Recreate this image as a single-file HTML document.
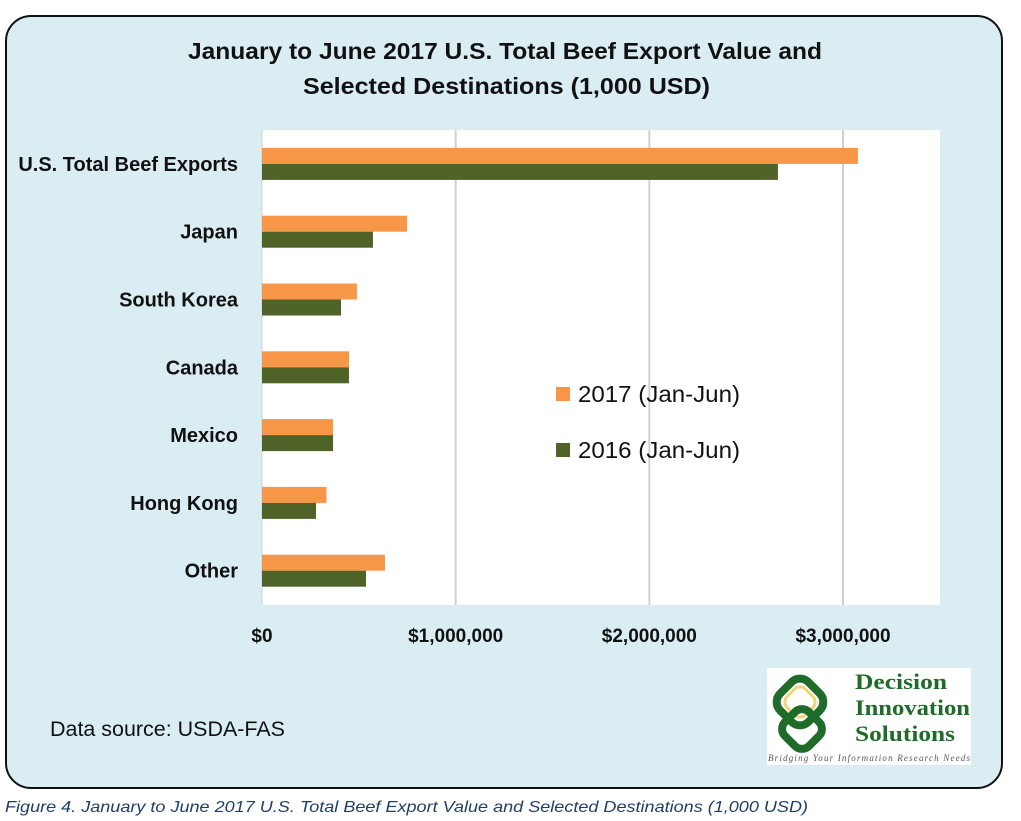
<!DOCTYPE html>
<html><head><meta charset="utf-8"><style>
body{margin:0;width:1021px;height:821px;background:#fff;position:relative;font-family:"Liberation Sans",sans-serif;overflow:hidden}
#panel{position:absolute;left:5px;top:15px;width:998px;height:774px;border:2px solid #111;border-radius:26px;background:#daedf3;box-sizing:border-box}
</style></head><body>
<div id="panel"></div>
<svg width="1021" height="821" style="position:absolute;left:0;top:0">
<text x="188" y="59" font-size="23" font-weight="bold" fill="#111" textLength="634" lengthAdjust="spacingAndGlyphs">January to June 2017 U.S. Total Beef Export Value and</text>
<text x="303" y="94" font-size="23" font-weight="bold" fill="#111" textLength="407" lengthAdjust="spacingAndGlyphs">Selected Destinations  (1,000 USD)</text>
<rect x="262" y="130" width="678" height="475" fill="#fff"/>
<g id="grid"></g><g id="bars"></g><g id="labels"></g>
<rect x="556" y="387" width="14" height="14" fill="#f79646"/>
<text x="578" y="402" font-size="23" fill="#111" textLength="162" lengthAdjust="spacingAndGlyphs">2017 (Jan-Jun)</text>
<rect x="556" y="443" width="14" height="14" fill="#4f6228"/>
<text x="578" y="458" font-size="23" fill="#111" textLength="162" lengthAdjust="spacingAndGlyphs">2016 (Jan-Jun)</text>
<text x="50" y="736" font-size="21" fill="#111" textLength="235" lengthAdjust="spacingAndGlyphs">Data source: USDA-FAS</text>
<g>
<rect x="767" y="668" width="204" height="97" fill="#fff"/>
<g fill="none" stroke-width="8">
<rect x="780" y="682" width="40" height="40" rx="12" stroke="#1f6b2a" transform="rotate(45 800 702)"/>
<rect x="787" y="689" width="26" height="26" rx="8" stroke="#f2d27a" stroke-width="3" transform="rotate(45 800 702)"/>
<rect x="785" y="712" width="34" height="34" rx="10" stroke="#1f6b2a" transform="rotate(45 802 729)"/>
</g>
<text x="855" y="689" font-family="Liberation Serif" font-weight="bold" font-size="22" fill="#1f6b2a" textLength="92" lengthAdjust="spacingAndGlyphs">Decision</text>
<text x="855" y="715" font-family="Liberation Serif" font-weight="bold" font-size="22" fill="#1f6b2a" textLength="115" lengthAdjust="spacingAndGlyphs">Innovation</text>
<text x="855" y="741" font-family="Liberation Serif" font-weight="bold" font-size="22" fill="#1f6b2a" textLength="100" lengthAdjust="spacingAndGlyphs">Solutions</text>
<text x="768" y="761" font-family="Liberation Serif" font-style="italic" font-size="9" fill="#555" textLength="202">Bridging Your Information Research Needs</text>
</g>
<text x="5" y="812" font-size="16" font-style="italic" fill="#1f3f66" textLength="803" lengthAdjust="spacingAndGlyphs">Figure 4. January to June 2017 U.S. Total Beef Export Value and Selected Destinations (1,000 USD)</text>
</svg>
<script>
const categories=["U.S. Total Beef Exports","Japan","South Korea","Canada","Mexico","Hong Kong","Other"];
const values2017=[3077000,749000,490000,449000,367000,333000,635000];
const values2016=[2664000,573000,408000,449000,367000,279000,537000];
const tickValues=[0,1000000,2000000,3000000];
const tickLabels=["$0","$1,000,000","$2,000,000","$3,000,000"];
const NS="http://www.w3.org/2000/svg";
const x0=262,pxPerUnit=(843-262)/3000000,yTop=130,band=67.8;
const xs=v=>x0+v*pxPerUnit;
function mk(tag,attrs,parent){const e=document.createElementNS(NS,tag);for(const k in attrs)e.setAttribute(k,attrs[k]);document.getElementById(parent).appendChild(e);return e;}
tickValues.forEach((v,i)=>{
 if(v>0){const g=mk('line',{x1:xs(v),x2:xs(v),y1:130,y2:605,stroke:'#d0d0d0','stroke-width':2},'grid');
 
 }
 const t=mk('text',{x:xs(v),y:642,'text-anchor':'middle','font-size':19,'font-weight':'bold',fill:'#111'},'labels');
 t.textContent=tickLabels[i];
 
 
});
const ax=mk('line',{x1:x0,x2:x0,y1:130,y2:605,stroke:'#d0d0d0','stroke-width':1},'grid');


categories.forEach((c,i)=>{
 const cy=yTop+band*(i+0.5);
 const a=mk('rect',{x:x0,y:cy-16,width:xs(values2017[i])-x0,height:16,fill:'#f79646'},'bars');
 
 
 const b=mk('rect',{x:x0,y:cy,width:xs(values2016[i])-x0,height:16,fill:'#4f6228'},'bars');
 
 
 const t=mk('text',{x:238,y:cy+7,'text-anchor':'end','font-size':20,'font-weight':'bold',fill:'#111'},'labels');
 t.textContent=c;
 
 
});
</script>
</body></html>
